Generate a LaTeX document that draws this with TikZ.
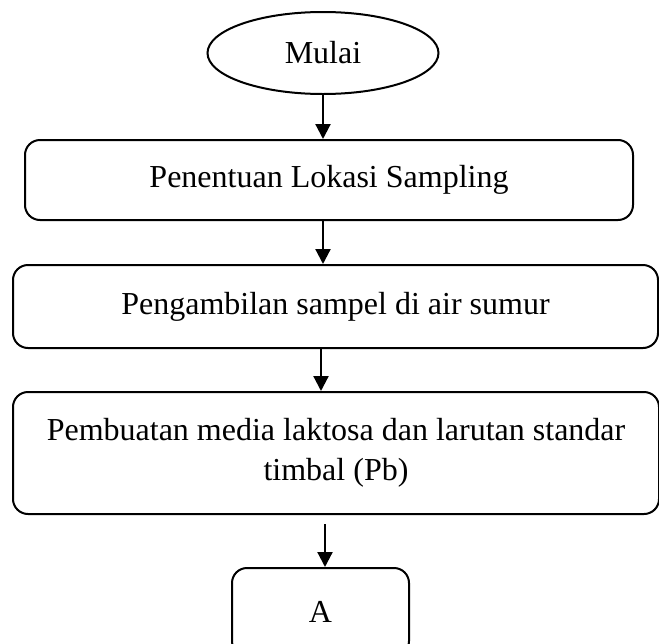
\documentclass[tikz,border=0pt]{standalone}
\usepackage{fontspec}
\setmainfont{Liberation Serif}
\usetikzlibrary{arrows.meta, positioning, shapes.geometric}

\begin{document}
\begin{tikzpicture}[
    x=0.5pt, y=-0.5pt,
    startnode/.style = {draw, ellipse, line width=1pt, inner sep=0pt,
                        minimum width=115.5pt, minimum height=41pt,
                        font=\fontsize{16}{20}\selectfont},
    procbox/.style   = {draw, rectangle, rounded corners=7.5pt, line width=1pt,
                        inner sep=0pt, align=center,
                        font=\fontsize{16}{20}\selectfont},
    arr/.style       = {-{Triangle[length=7.5pt, width=7.5pt]}, line width=1.1pt}
  ]
    \useasboundingbox (0,0) rectangle (659,643);

    \node[startnode] (mulai) at (323, 53) {Mulai};
    \node[procbox, minimum width=304pt, minimum height=40pt]
          (lokasi) at (329, 180) {Penentuan Lokasi Sampling};
    \node[procbox, minimum width=322.5pt, minimum height=41.5pt]
          (sampel) at (335.5, 306.5) {Pengambilan sampel di air sumur};
    \node[procbox, minimum width=323pt, minimum height=61pt]
          (media) at (336, 453)
          {Pembuatan media laktosa dan larutan standar\\timbal (Pb)};
    \node[procbox, minimum width=88.5pt, minimum height=44pt]
          (konektor) at (320.5, 612) {A};

    \draw[arr] (mulai.south) -- (mulai.south |- lokasi.north);
    \draw[arr] (lokasi.south -| mulai.south) -- (sampel.north -| mulai.south);
    \draw[arr] ([xshift=-1pt]sampel.south -| mulai.south)
               -- ([xshift=-1pt]media.north -| mulai.south);
    \draw[arr, shorten <=4.5pt] ([xshift=1pt]media.south -| mulai.south)
               -- ([xshift=1pt]konektor.north -| mulai.south);
  \end{tikzpicture}
\end{document}
